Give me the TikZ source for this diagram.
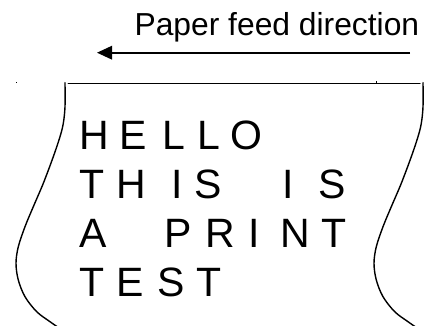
\documentclass[tikz,border=0pt]{standalone}
\usepackage{fontspec}
\setmainfont{Liberation Sans}
\usetikzlibrary{arrows.meta}
\begin{document}
\begin{tikzpicture}[x=1pt,y=-1pt,
  edge/.style={line width=1.4pt, line cap=round, line join=round},
  feed/.style={line width=1.7pt, -{Triangle[length=15pt,width=13.5pt]}},
  glyph/.style={inner sep=0pt, anchor=base, font=\fontsize{41}{41}\selectfont},
  caption/.style={inner sep=0pt, anchor=base east, font=\fontsize{31.8}{31.8}\selectfont}]
\useasboundingbox (0,0) rectangle (425,326);
\clip (0,0) rectangle (425,326);

% caption and feed arrow
\node[caption] (title) at (419.4,36) {Paper feed direction};
\coordinate (tail) at (410,52.7);
\coordinate (head) at (97,52.7);
\draw[feed] (tail) -- (head);

% top edge of the sheet
\coordinate (topL) at (68.3,83.3);
\coordinate (topR) at (420,83.3);
\draw[edge] (topL) -- (topR);

% torn side edges of the sheet (same outline, shifted)
\foreach \dx in {0,358} {
  \draw[edge, xshift=\dx pt] plot[smooth, tension=0.55] coordinates {
    (65,82.7) (65,106.7) (63.3,123.3) (60,136.7) (53.3,156.7) (43.3,183.3)
    (33.3,206.7) (25,226.7) (18.3,246.7) (16,263.3) (18.3,280) (25,296.7)
    (36.7,311.7) (50,321.7) (62,330)};
}

% small specks near the top edge
\fill (16.4,82) rectangle ++(0.9,1.3);
\fill (375.8,81.4) rectangle ++(0.9,1.4);

% printed test text, one glyph per node
\foreach \x/\y/\c [count=\i] in {
  94.3/149.3/H, 133.3/149.3/E, 173.8/149.3/L, 208.8/149.3/L, 246.7/149.3/O,
  92.5/198.3/T, 131/198.3/H, 176.8/198.3/I, 207.8/198.3/S, 288/198.3/I, 332.2/198.3/S,
  93.3/247.3/A, 178.3/247.3/P, 220/247.3/R, 254.5/247.3/I, 295.3/247.3/N, 333.7/247.3/T,
  92.5/296.7/T, 130.5/296.7/E, 170.8/296.7/S, 208.8/296.7/T}
  \node[glyph] (g\i) at (\x,\y) {\c};
\end{tikzpicture}
\end{document}
